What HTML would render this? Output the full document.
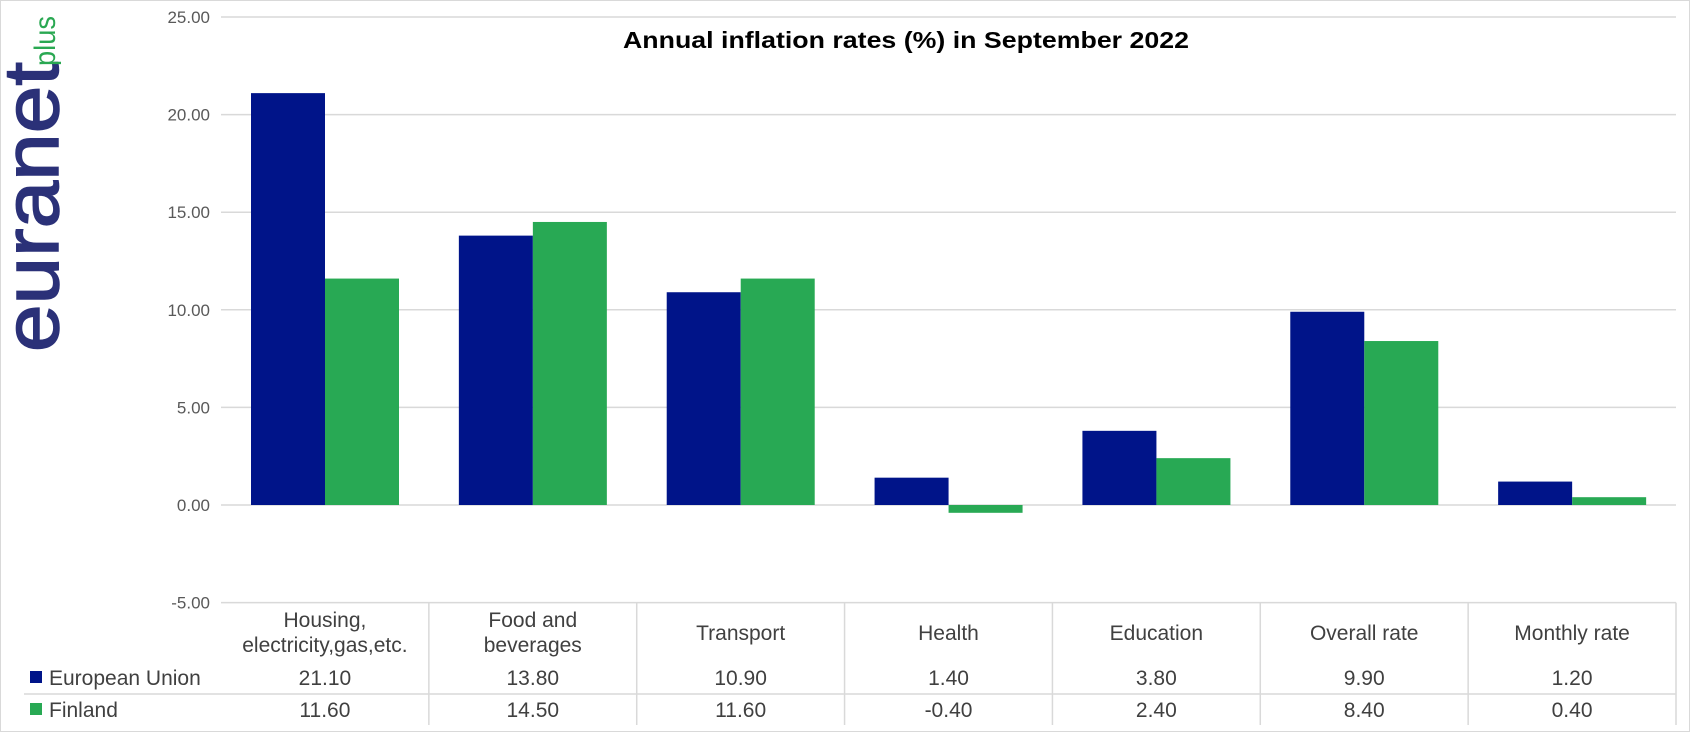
<!DOCTYPE html>
<html><head><meta charset="utf-8"><style>
html,body{margin:0;padding:0;background:#fff;}
svg{display:block;font-family:"Liberation Sans",Arial,sans-serif;}
</style></head><body>
<svg id="chart" width="1691" height="733" viewBox="0 0 1691 733" xmlns="http://www.w3.org/2000/svg">
<rect x="0.5" y="0.5" width="1689" height="731" fill="#fff" stroke="#d9d9d9"/>
<g>
<text transform="translate(58,352) rotate(-90)" font-size="78" fill="#2b3178" stroke="#2b3178" stroke-width="1.5" textLength="290" lengthAdjust="spacingAndGlyphs">euranet</text>
<text transform="translate(55,66) rotate(-90)" font-size="30" fill="#2aa852" textLength="50" lengthAdjust="spacingAndGlyphs">plus</text>
</g>
<text x="906" y="48" text-anchor="middle" font-size="23" font-weight="bold" fill="#000" textLength="566" lengthAdjust="spacingAndGlyphs">Annual inflation rates (%) in September 2022</text>
<g id="grid"></g>
<g id="bars"></g>
<g id="table"></g>
</svg>
<script>
const categories = [["Housing,","electricity,gas,etc."],["Food and","beverages"],["Transport"],["Health"],["Education"],["Overall rate"],["Monthly rate"]];
const euValues = [21.10, 13.80, 10.90, 1.40, 3.80, 9.90, 1.20];
const fiValues = [11.60, 14.50, 11.60, -0.40, 2.40, 8.40, 0.40];
const seriesNames = ["European Union","Finland"];
const ticks = [-5, 0, 5, 10, 15, 20, 25];

const NS = "http://www.w3.org/2000/svg";
const plotL = 221, plotR = 1676, zeroY = 505, unit = 19.52;
const catW = (plotR - plotL) / categories.length;
const barW = 74, pad = 30;
const colors = ["#001489", "#28a954"];
function y(v){ return zeroY - v * unit; }
function x(i){ return plotL + i * catW; }
function mk(tag, attrs, parent, txt){
  const e = document.createElementNS(NS, tag);
  for (const k in attrs) e.setAttribute(k, attrs[k]);
  if (txt !== undefined) e.textContent = txt;
  parent.appendChild(e); return e;
}
const grid = document.getElementById('grid');
ticks.forEach(t => {
  const l = mk('line', {x1: plotL, x2: plotR, y1: y(t), y2: y(t), stroke: '#d9d9d9', 'stroke-width': 1.5}, grid);
  
  
  const tx = mk('text', {x: 210, y: y(t) + 6, 'text-anchor': 'end', 'font-size': 17, fill: '#595959'}, grid, t.toFixed(2));
  
  
});
const bars = document.getElementById('bars');
[euValues, fiValues].forEach((vals, s) => {
  vals.forEach((v, i) => {
    const bx = x(i) + pad + s * barW;
    const r = mk('rect', {x: bx, y: Math.min(y(v), y(0)), width: barW, height: Math.abs(y(v) - y(0)), fill: colors[s]}, bars);
    
    
  });
});
const tbl = document.getElementById('table');
const rowLine = 694, bottom = 725;
for (let i = 1; i <= categories.length; i++) {
  const l = mk('line', {x1: x(i), x2: x(i), y1: y(-5), y2: bottom, stroke: '#d9d9d9', 'stroke-width': 1.5}, tbl);
  
  
}
const hl = mk('line', {x1: 24, x2: plotR, y1: rowLine, y2: rowLine, stroke: '#d9d9d9', 'stroke-width': 1.5}, tbl);


categories.forEach((c, i) => {
  const cx = x(i) + catW / 2;
  c.forEach((line, j) => {
    const cy = c.length === 2 ? 627 + j * 25 : 640;
    const t = mk('text', {x: cx, y: cy, 'text-anchor': 'middle', 'font-size': 21, fill: '#404040'}, tbl, line);
    
    
  });
  [euValues, fiValues].forEach((vals, s) => {
    const t = mk('text', {x: cx, y: s === 0 ? 685 : 717, 'text-anchor': 'middle', 'font-size': 21, fill: '#404040'}, tbl, vals[i].toFixed(2));
    
    
  });
});
seriesNames.forEach((n, s) => {
  const ly = s === 0 ? 685 : 717;
  const r = mk('rect', {x: 30, y: ly - 14, width: 12, height: 12, fill: colors[s]}, tbl);
  
  
  const t = mk('text', {x: 49, y: ly, 'font-size': 21, fill: '#404040'}, tbl, n);
  
  
});
</script>
</body></html>
